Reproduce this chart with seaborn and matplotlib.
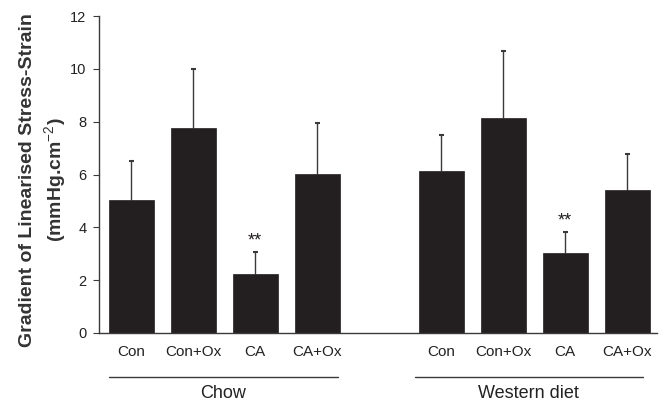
import matplotlib
matplotlib.use("Agg")
import matplotlib.pyplot as plt
import matplotlib.transforms as mtransforms
import seaborn as sns
import pandas as pd

# values
groups = ["Chow", "Western diet"]
treatments = ["Con", "Con+Ox", "CA", "CA+Ox"]
chow_mean = [5.05, 7.75, 2.25, 6.02]
chow_err = [1.45, 2.25, 0.83, 1.92]
western_mean = [6.15, 8.15, 3.03, 5.40]
western_err = [1.35, 2.52, 0.80, 1.36]
chow_pos = [0, 1, 2, 3]
western_pos = [5, 6, 7, 8]
stars = ["", "", "**", ""]

df = pd.DataFrame({
    "pos": chow_pos + western_pos,
    "mean": chow_mean + western_mean,
    "err": chow_err + western_err,
    "label": treatments + treatments,
    "star": stars + stars,
})
df["top"] = df["mean"] + df["err"]

sns.set_style("white")
plt.rcParams["font.family"] = ["Liberation Sans", "DejaVu Sans"]
plt.rcParams["mathtext.fontset"] = "custom"
plt.rcParams["mathtext.rm"] = "Liberation Sans"
plt.rcParams["mathtext.bf"] = "Liberation Sans:bold"

fig = plt.figure(figsize=(6.66, 4.03), dpi=100)
ax = fig.add_axes([0.1486, 0.1737, 0.838, 0.7863])

bar_col = "#231f20"
line_col = "#3a3a3a"
sns.barplot(data=df, x="pos", y="mean", native_scale=True, width=0.73,
            color=bar_col, saturation=1, errorbar=None, ax=ax,
            edgecolor=bar_col, linewidth=0.5, zorder=2)

# upper error bars only
ax.vlines(df["pos"], df["mean"], df["top"], color=line_col, lw=1.0, zorder=1)
ax.hlines(df["top"], df["pos"] - 0.04, df["pos"] + 0.04, color=line_col,
          lw=1.5, zorder=1)

for _, r in df.iterrows():
    if r["star"]:
        ax.text(r["pos"], r["top"] + 0.1, r["star"], ha="center",
                va="bottom", fontsize=13, color=bar_col)

ax.set_xlim(-0.52, 8.48)
ax.set_ylim(0, 12)
ax.set_yticks(range(0, 13, 2))
ax.set_xticks(df["pos"])
ax.set_xticklabels(df["label"])
ax.tick_params(axis="x", length=0, pad=9, labelsize=11, colors="#222222")
ax.tick_params(axis="y", length=4, width=0.8, color=line_col, pad=5,
               labelsize=10.5, labelcolor="#222222", left=True)
for s in ["top", "right"]:
    ax.spines[s].set_visible(False)
for s in ["left", "bottom"]:
    ax.spines[s].set_color(line_col)
    ax.spines[s].set_linewidth(1.0)
ax.set_xlabel("")
ax.set_ylabel("Gradient of Linearised Stress-Strain\n(mmHg.cm$^{-2}$)",
              fontsize=14, fontweight="bold", color="#333333",
              linespacing=1.35)
ax.yaxis.set_label_coords(-0.053, 0.483)

# group labels under the categories
trans = mtransforms.blended_transform_factory(ax.transData, ax.transAxes)
spans = [(-0.36, 3.33), (4.57, 8.25)]
for g, (a, b) in zip(groups, spans):
    ax.plot([a, b], [-0.139, -0.139], color=line_col, lw=1.0,
            transform=trans, clip_on=False)
    ax.text((a + b) / 2, -0.19, g, transform=trans, ha="center", va="center",
            fontsize=13, color="#222222")

fig.savefig("out.png", dpi=100)
